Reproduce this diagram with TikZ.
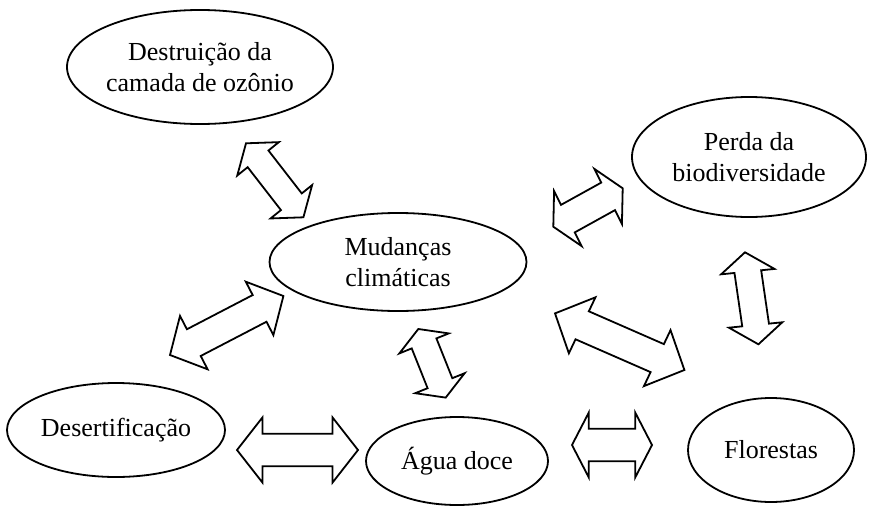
\documentclass[tikz,border=0pt]{standalone}
\usepackage{fontspec}
\setmainfont{Liberation Serif}
\usetikzlibrary{shapes.geometric,calc}
\newcommand\arrH{0.58}
\newcommand\arrS{0.5}
% #1 name, #2 centre, #3 half axis vector (tip direction), #4 half head-width vector
\newcommand\dblarrow[4]{%
  \coordinate (#1) at #2;
  \draw[arrowbox] ($(#1)+#3$) -- ($(#1)+\arrH*#3+#4$) -- ($(#1)+\arrH*#3+\arrS*#4$)
    -- ($(#1)-\arrH*#3+\arrS*#4$) -- ($(#1)-\arrH*#3+#4$) -- ($(#1)-1*#3$)
    -- ($(#1)-\arrH*#3-1*#4$) -- ($(#1)-\arrH*#3-\arrS*#4$)
    -- ($(#1)+\arrH*#3-\arrS*#4$) -- ($(#1)+\arrH*#3-1*#4$) -- cycle;}
\tikzset{
  topic/.style={ellipse, draw, line width=1.8pt, inner sep=0pt, align=center,
    font=\fontsize{26}{31.5}\selectfont},
  arrowbox/.style={draw, fill=white, line width=1.8pt, line join=miter}
}
\begin{document}
\begin{tikzpicture}[x=1pt,y=-1pt]
\useasboundingbox (0,0) rectangle (869,506);
\node[topic, minimum width=266pt, minimum height=114pt] (ozo) at (200,67) {Destruição da\\camada de ozônio};
\node[topic, minimum width=234pt, minimum height=120pt] (bio) at (749,157) {Perda da\\biodiversidade};
\node[topic, minimum width=257pt, minimum height=98pt] (mud) at (398,262) {Mudanças\\climáticas};
\node[topic, minimum width=218pt, minimum height=94pt] (des) at (116,430) {Desertificação};
\node[topic, minimum width=182pt, minimum height=88pt] (agua) at (457,461) {Água doce};
\node[topic, minimum width=166pt, minimum height=104pt] (flo) at (771,450) {Florestas};
\dblarrow{ozo-mud}{(274.7,180.3)}{(28.7,37)}{(20.8,-16.7)}
\dblarrow{mud-bio}{(588,207.5)}{(34.7,-19.2)}{(13.8,27.5)}
\dblarrow{des-mud}{(226.7,325.5)}{(56.7,-29.5)}{(13.8,26.7)}
\dblarrow{mud-agua}{(432,363.3)}{(13.7,34.3)}{(24.7,-10)}
\dblarrow{mud-flo}{(619.7,341.7)}{(64.7,28.3)}{(13.3,-28)}
\dblarrow{bio-flo}{(751.7,298.3)}{(6.7,46)}{(26.7,-2.7)}
\dblarrow{des-agua}{(297.5,450)}{(60.5,0)}{(0,32.5)}
\dblarrow{agua-flo}{(612,445)}{(40,0)}{(0,32.5)}
\end{tikzpicture}
\end{document}
